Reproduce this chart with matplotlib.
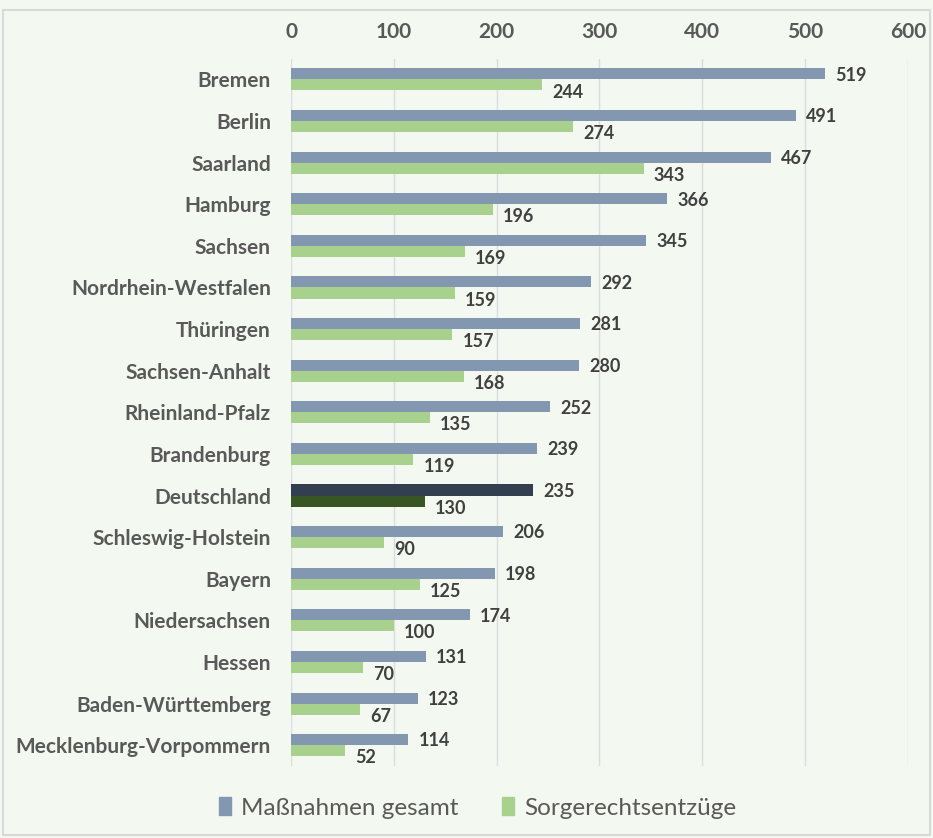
import matplotlib.pyplot as plt
import numpy as np
from matplotlib.patches import Rectangle

states = ['Bremen', 'Berlin', 'Saarland', 'Hamburg', 'Sachsen',
          'Nordrhein-Westfalen', 'Thüringen', 'Sachsen-Anhalt',
          'Rheinland-Pfalz', 'Brandenburg', 'Deutschland',
          'Schleswig-Holstein', 'Bayern', 'Niedersachsen', 'Hessen',
          'Baden-Württemberg', 'Mecklenburg-Vorpommern']
massnahmen = [519, 491, 467, 366, 345, 292, 281, 280, 252, 239, 235,
              206, 198, 174, 131, 123, 114]
entzuege = [244, 274, 343, 196, 169, 159, 157, 168, 135, 119, 130,
            90, 125, 100, 70, 67, 52]
xticks = [0, 100, 200, 300, 400, 500, 600]

bg = '#f3f8f0'
blue = '#8497b0'
green = '#a9d18e'
blue_dark = '#333f50'
green_dark = '#375623'

plt.rcParams['font.family'] = ['Lato', 'DejaVu Sans']

fig = plt.figure(figsize=(9.33, 8.38), dpi=100, facecolor=bg)
ax = fig.add_axes([0.312, 0.086, 0.661, 0.844], facecolor=bg)

# frame around the whole chart
fig.patches.append(Rectangle((0.003, 0.004), 0.994, 0.984, transform=fig.transFigure,
                             fill=False, edgecolor='#d9d9d9', linewidth=1.5))

y = np.arange(len(states))
h = 0.265
c1 = [blue_dark if s == 'Deutschland' else blue for s in states]
c2 = [green_dark if s == 'Deutschland' else green for s in states]
ax.barh(y - h / 2, massnahmen, height=h, color=c1, zorder=3)
ax.barh(y + h / 2, entzuege, height=h, color=c2, zorder=3)

for yi, v in zip(y, massnahmen):
    ax.text(v + 10, yi - h / 2 + 0.03, str(v), va='center', ha='left', fontsize=13,
            fontweight='bold', color='#404040')
for yi, v in zip(y, entzuege):
    ax.text(v + 10, yi + h / 2 + 0.17, str(v), va='center', ha='left', fontsize=13,
            fontweight='bold', color='#404040')

ax.set_ylim(len(states) - 0.5, -0.5)
ax.set_xlim(0, 600)
ax.set_xticks(xticks)
ax.xaxis.tick_top()
ax.set_xticklabels([str(t) for t in xticks], fontsize=15, fontweight='bold', color='#595959')
ax.set_yticks(y)
ax.set_yticklabels(states, fontsize=15, fontweight='bold', color='#595959')
ax.tick_params(axis='both', length=0)
ax.tick_params(axis='x', pad=12)
ax.tick_params(axis='y', pad=14.5)
ax.grid(axis='x', color='#dcdcdc', linewidth=1, zorder=0)
for sp in ax.spines.values():
    sp.set_visible(False)

handles = [Rectangle((0, 0), 1, 1, color=blue), Rectangle((0, 0), 1, 1, color=green)]
fig.legend(handles, ['Maßnahmen gesamt', 'Sorgerechtsentzüge'], loc='center',
           bbox_to_anchor=(0.512, 0.036), ncol=2, frameon=False, fontsize=17.5,
           handlelength=0.5, handleheight=0.75, handletextpad=0.4, columnspacing=1.8,
           labelcolor='#595959')

fig.savefig('out.png', dpi=100, facecolor=bg)
